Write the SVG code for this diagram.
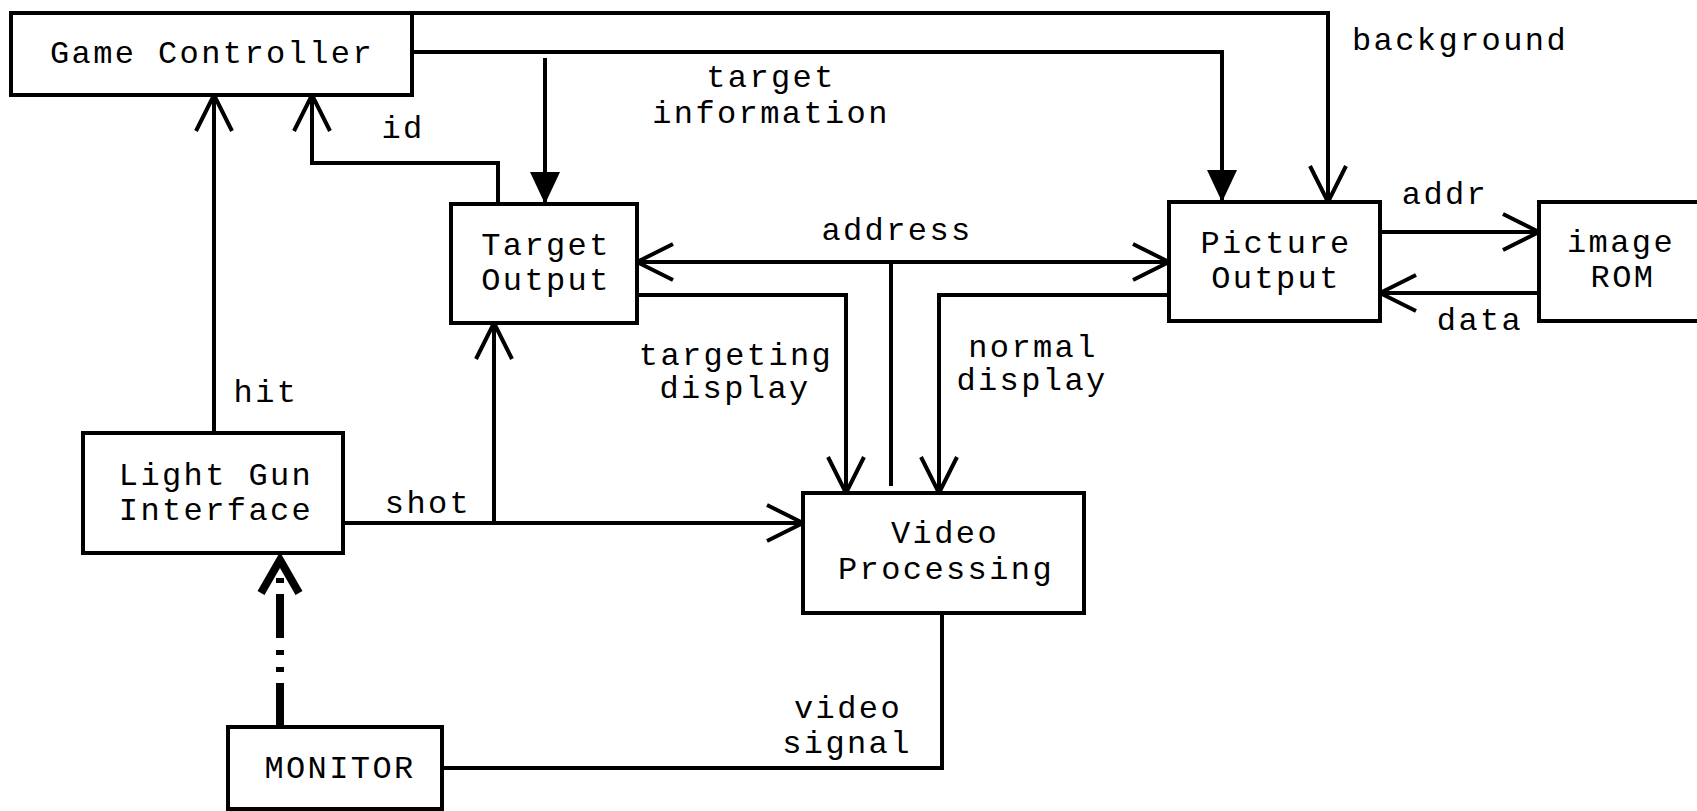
<svg xmlns="http://www.w3.org/2000/svg" width="1697" height="811" viewBox="0 0 1697 811">
<style>
.box{fill:#fff;stroke:#000;stroke-width:4}
.ln{fill:none;stroke:#000;stroke-width:4}
.oa{marker-end:url(#open)}
.fa{marker-end:url(#fill)}
text{font-family:"Liberation Mono","Courier New",monospace;font-size:32px;letter-spacing:2.4px;fill:#000;text-anchor:middle}
</style>
<defs>
<marker id="open" markerUnits="userSpaceOnUse" markerWidth="40" markerHeight="40" refX="38" refY="20" orient="auto-start-reverse" overflow="visible">
<path d="M2 2 L38 20 L2 38" fill="none" stroke="#000" stroke-width="4"/>
</marker>
<marker id="fill" markerUnits="userSpaceOnUse" markerWidth="32" markerHeight="30" refX="32" refY="15" orient="auto" overflow="visible">
<path d="M0 0 L32 15 L0 30 Z" fill="#000"/>
</marker>
</defs>
<rect width="1697" height="811" fill="#fff"/>
<g id="connectors">
<path class="ln oa" d="M412 13 H1328 V202"/>
<path class="ln fa" d="M412 52 H1222 V202"/>
<path class="ln fa" d="M545 58 V204"/>
<path class="ln oa" d="M498 204 V163 H312 V95"/>
<path class="ln oa" d="M214 433 V95"/>
<path class="ln oa" d="M343 523 H803"/>
<path class="ln oa" d="M494 523 V323"/>
<path class="ln oa" d="M637 262 H1169" marker-start="url(#open)"/>
<path class="ln" d="M891 262 V486"/>
<path class="ln oa" d="M637 295 H846 V493"/>
<path class="ln oa" d="M1169 295 H939 V493"/>
<path class="ln oa" d="M1380 232 H1539"/>
<path class="ln oa" d="M1539 293 H1380"/>
<path class="ln" d="M442 768 H942 V613"/>
<path fill="none" stroke="#000" stroke-width="8" stroke-dasharray="44 11 5 12 5 12" d="M280 727 V576"/>
<path fill="none" stroke="#000" stroke-width="8" d="M261 593 L280 560 L299 593"/>
</g>
<g id="game-controller"><rect class="box" x="11" y="13" width="401" height="82"/><text x="212" y="63">Game Controller</text></g>
<g id="target-output"><rect class="box" x="451" y="204" width="186" height="119"/><text x="546" y="255">Target</text><text x="546" y="290">Output</text></g>
<g id="picture-output"><rect class="box" x="1169" y="202" width="211" height="119"/><text x="1276" y="253">Picture</text><text x="1276" y="288">Output</text></g>
<g id="image-rom"><rect class="box" x="1539" y="202" width="180" height="119"/><text x="1621" y="252">image</text><text x="1623" y="287">ROM</text></g>
<g id="video-processing"><rect class="box" x="803" y="493" width="281" height="120"/><text x="945" y="543">Video</text><text x="946" y="579">Processing</text></g>
<g id="light-gun-interface"><rect class="box" x="83" y="433" width="260" height="120"/><text x="216" y="485">Light Gun</text><text x="216" y="520">Interface</text></g>
<g id="monitor"><rect class="box" x="228" y="727" width="214" height="82"/><text x="340" y="778">MONITOR</text></g>
<g id="labels">
<text x="403" y="138">id</text>
<text x="771" y="87">target</text>
<text x="771" y="123">information</text>
<text x="1460" y="50">background</text>
<text x="1445" y="204">addr</text>
<text x="1480" y="330">data</text>
<text x="897" y="240">address</text>
<text x="736" y="365">targeting</text>
<text x="735" y="398">display</text>
<text x="1033" y="357">normal</text>
<text x="1032" y="390">display</text>
<text x="266" y="402">hit</text>
<text x="428" y="513">shot</text>
<text x="848" y="718">video</text>
<text x="847" y="753">signal</text>
</g>
</svg>
